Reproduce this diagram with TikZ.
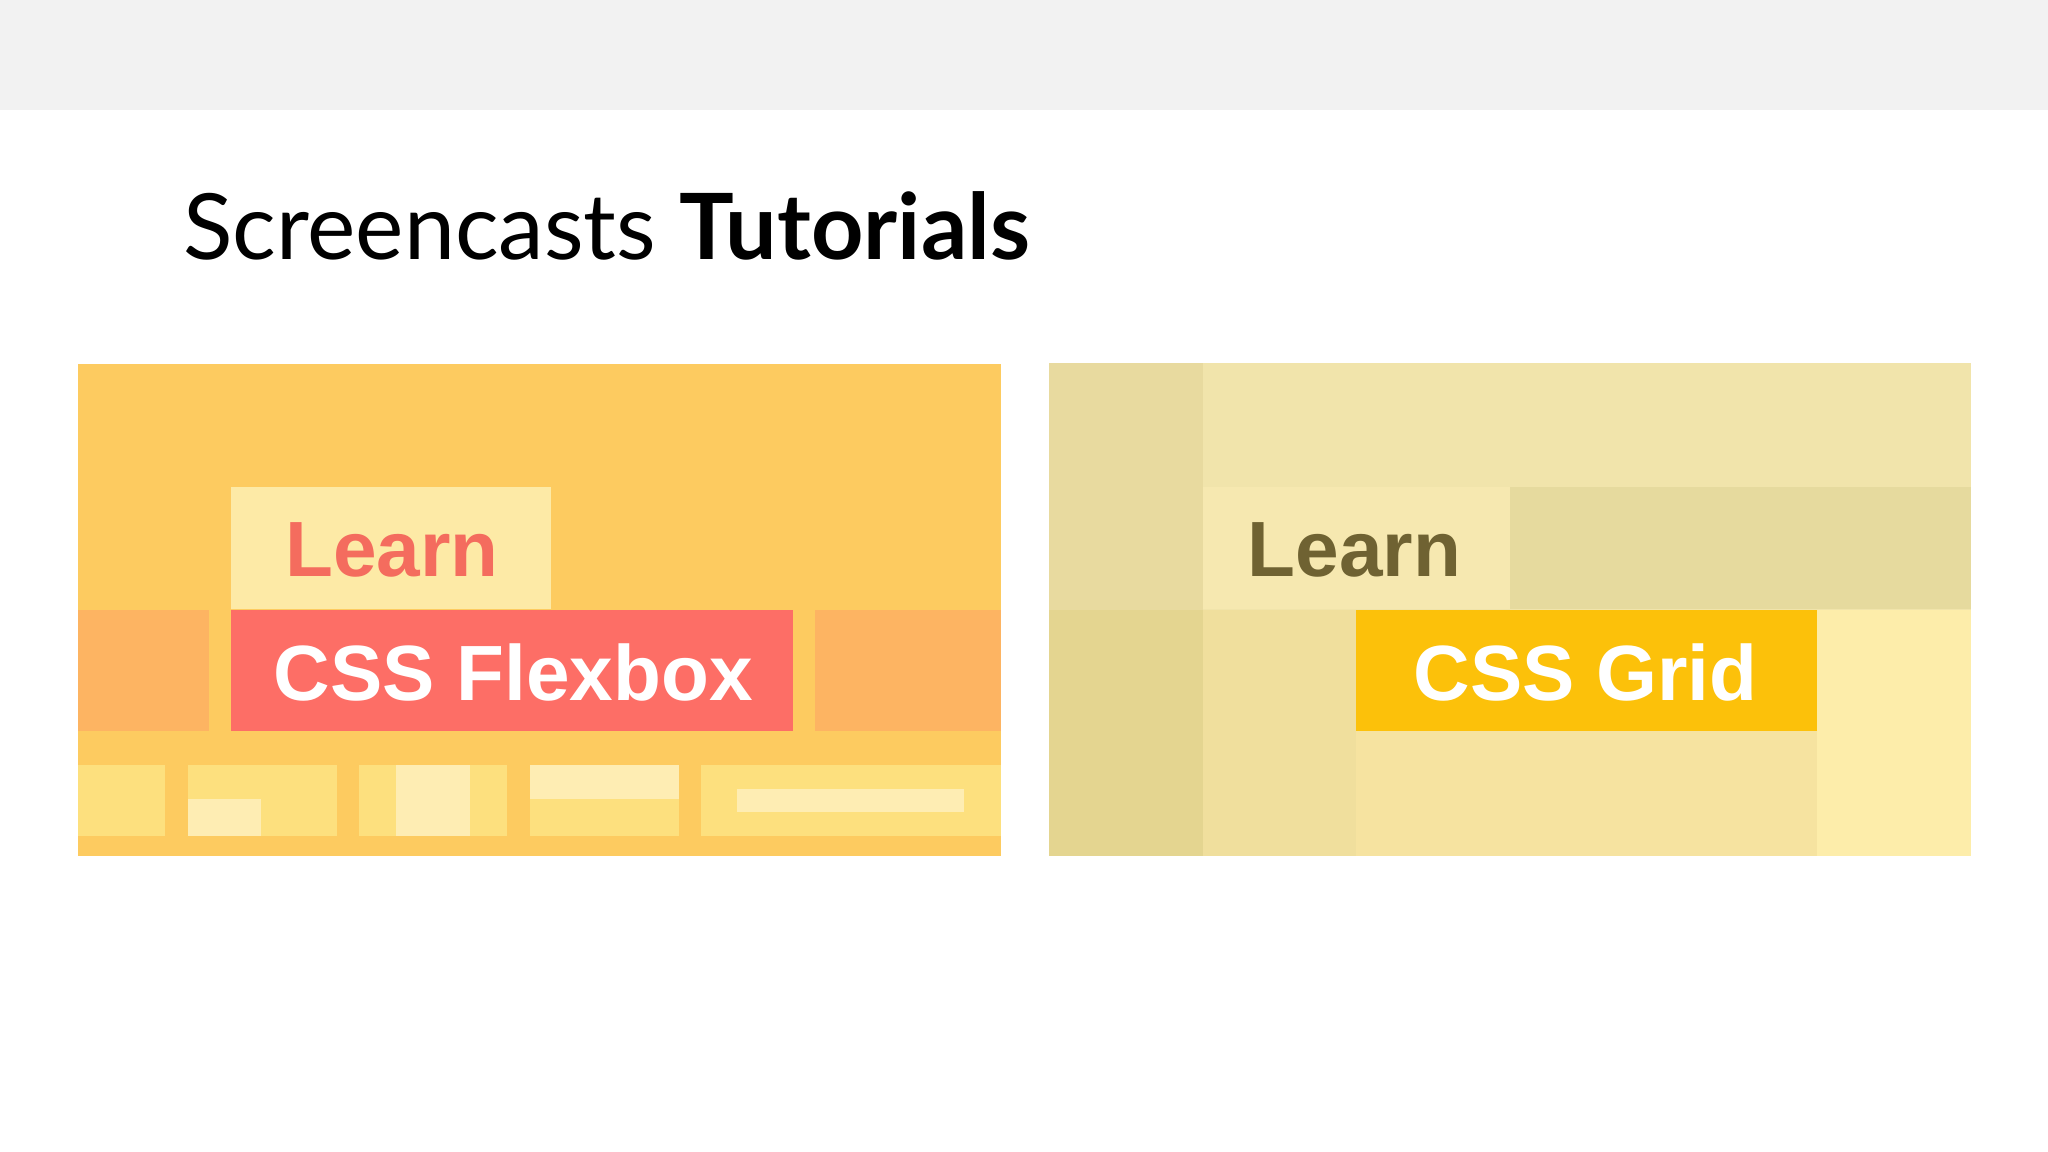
\documentclass[tikz,border=0pt]{standalone}
\usepackage{fontspec}
\setmainfont{Liberation Sans}
\newfontfamily\titlefont{Lato}
\definecolor{topgray}{HTML}{F2F2F2}
\definecolor{lbase}{HTML}{FDCB60}
\definecolor{llearn}{HTML}{FDEAA6}
\definecolor{lred}{HTML}{FD6E66}
\definecolor{lorange}{HTML}{FDB462}
\definecolor{lrow}{HTML}{FDE07E}
\definecolor{lpatch}{HTML}{FEEDB3}
\definecolor{ltext}{HTML}{F46C5E}
\definecolor{rbase}{HTML}{F1E4AB}
\definecolor{rstrip}{HTML}{E8DA9F}
\definecolor{rstripb}{HTML}{E4D590}
\definecolor{rtop}{HTML}{E6DA9E}
\definecolor{rlearn}{HTML}{F6E8B0}
\definecolor{rtext}{HTML}{6F6232}
\definecolor{rmid}{HTML}{F0DF9D}
\definecolor{rgrid}{HTML}{FCC10A}
\definecolor{rbelow}{HTML}{F6E3A0}
\definecolor{rright}{HTML}{FDEDAA}
\tikzset{lbl/.style={font=\bfseries\fontsize{60}{66}\selectfont, inner sep=0pt}}
\begin{document}
\begin{tikzpicture}[x=1pt,y=-1pt]
\useasboundingbox (0,0) rectangle (1568,882);
\fill[white] (0,0) rectangle (1568,882);
\fill[topgray] (0,0) rectangle (1568,84);
\node[anchor=base west, inner sep=0pt, font=\titlefont\fontsize{70}{74}\selectfont] (title) at (140,199) {Screencasts \textbf{Tutorials}};
% left panel
\fill[lbase] (60,279) rectangle (766,655);
\fill[llearn] (177,373) rectangle (422,466);
\fill[lorange] (60,467) rectangle (160,560);
\fill[lorange] (624,467) rectangle (766,560);
\fill[lred] (177,467) rectangle (607,560);
\foreach \a/\b in {60/126,144/258,275/388,406/520,537/766}
  \fill[lrow] (\a,586) rectangle (\b,640);
\fill[lpatch] (144,612) rectangle (200,640);
\fill[lpatch] (303,586) rectangle (360,640);
\fill[lpatch] (406,586) rectangle (520,612);
\fill[lpatch] (564,604) rectangle (738,622);
\node[lbl, text=ltext] (learnA) at (300,421) {Learn};
\node[lbl, text=white] (flex) at (393,515) {CSS Flexbox};
% right panel
\fill[rbase] (803,278) rectangle (1509,655);
\fill[rstrip] (803,278) rectangle (921,467);
\fill[rstripb] (803,467) rectangle (921,655);
\fill[rtop] (1156,373) rectangle (1509,466);
\fill[rlearn] (921,373) rectangle (1156,466);
\fill[rmid] (921,467) rectangle (1038,655);
\fill[rbelow] (1038,560) rectangle (1391,655);
\fill[rright] (1391,467) rectangle (1509,655);
\fill[rgrid] (1038,467) rectangle (1391,560);
\node[lbl, text=rtext] (learnB) at (1037,421) {Learn};
\node[lbl, text=white] (grid) at (1214,515) {CSS Grid};
\end{tikzpicture}
\end{document}
